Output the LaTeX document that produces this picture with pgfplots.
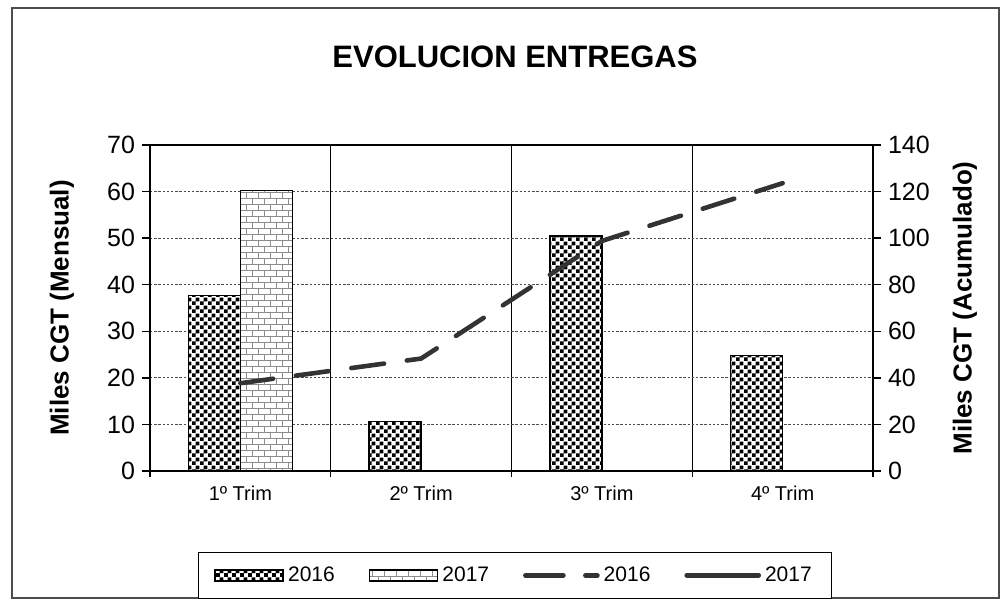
\documentclass[border=0pt]{standalone}
\usepackage{fontspec}
\setmainfont{Liberation Sans}
\usepackage{pgfplots}
\pgfplotsset{compat=1.18}
\usetikzlibrary{patterns}

% fine checkerboard for the 2016 bars
\pgfdeclarepatternformonly{finechecker}{\pgfpointorigin}{\pgfqpoint{4pt}{4pt}}{\pgfqpoint{4pt}{4pt}}{
  \pgfpathrectangle{\pgfpointorigin}{\pgfqpoint{2.1pt}{2.1pt}}
  \pgfpathrectangle{\pgfqpoint{2pt}{2pt}}{\pgfqpoint{2.1pt}{2.1pt}}
  \pgfusepath{fill}}

% small bricks for the 2017 bars
\pgfdeclarepatternformonly{smallbricks}{\pgfqpoint{-0.5pt}{-0.5pt}}{\pgfqpoint{6.5pt}{6.5pt}}{\pgfqpoint{6pt}{6pt}}{
  \pgfsetlinewidth{0.45pt}
  \pgfpathmoveto{\pgfqpoint{0pt}{0pt}}\pgfpathlineto{\pgfqpoint{6pt}{0pt}}
  \pgfpathmoveto{\pgfqpoint{0pt}{3pt}}\pgfpathlineto{\pgfqpoint{6pt}{3pt}}
  \pgfpathmoveto{\pgfqpoint{0pt}{0pt}}\pgfpathlineto{\pgfqpoint{0pt}{3pt}}
  \pgfpathmoveto{\pgfqpoint{3pt}{3pt}}\pgfpathlineto{\pgfqpoint{3pt}{6pt}}
  \pgfusepath{stroke}}

\definecolor{linegray}{HTML}{333333}

\pgfplotsset{
  common/.style={
    width=361.5pt, height=163pt, scale only axis,
    xmin=-0.5, xmax=3.5,
    tick align=outside,
    major tick length=4pt,
    axis line style={line width=0.9pt},
    tick style={line width=0.7pt, black},
    yticklabel style={font=\fontsize{12.5}{13}\selectfont},
    /pgf/number format/assume math mode=true,
  },
}

\begin{document}
\begin{tikzpicture}
\useasboundingbox (-75pt,-64.5pt) rectangle (425pt,235.5pt);
\draw[black!70, line width=0.8pt] (-69pt,-63.5pt) rectangle (424.5pt,231.5pt);

\node[font=\bfseries\fontsize{15.5}{17}\selectfont] at (182.5pt,207pt) {EVOLUCION ENTREGAS};

\begin{axis}[common,
  at={(0,0)}, anchor=south west,
  ymin=0, ymax=70, ytick={0,10,...,70},
  ytick pos=left,
  ybar=0pt, bar width=26pt,
  xtick={0,1,2,3},
  xticklabels={1º Trim,2º Trim,3º Trim,4º Trim},
  xticklabel style={font=\fontsize{10}{11}\selectfont},
  major x tick style={draw=none},
  minor xtick={-0.5,0.5,1.5,2.5,3.5},
  xtick pos=bottom,
  xminorgrids, minor x grid style={black, line width=0.6pt},
  ymajorgrids, major y grid style={black!70, dash pattern=on 1.2pt off 0.9pt, line width=0.5pt},
  ylabel={Miles CGT (Mensual)},
  ylabel style={font=\bfseries\fontsize{13}{14}\selectfont, at={(axis description cs:-0.122,0.5)}, anchor=center},
]
\addplot[draw=black, line width=0.8pt, fill=white,
  postaction={pattern=finechecker, pattern color=black}]
  coordinates {(0,37.7)(1,10.6)(2,50.5)(3,24.8)};
\addplot[draw=black, line width=0.8pt, fill=white,
  postaction={pattern=smallbricks, pattern color=black!45}]
  coordinates {(0,60.2)};
\end{axis}

\begin{axis}[common,
  at={(0,0)}, anchor=south west,
  ymin=0, ymax=140, ytick={0,20,...,140},
  axis y line*=right, axis x line=none,
  ylabel={Miles CGT (Acumulado)},
  ylabel style={font=\bfseries\fontsize{13}{14}\selectfont, at={(axis description cs:1.127,0.5)}, anchor=center, rotate=0},
  legend style={at={(axis description cs:0.505,-0.32)}, anchor=center,
    draw=black, line width=0.6pt, legend columns=4,
    font=\fontsize{10.5}{12}\selectfont,
    /tikz/every even column/.append style={column sep=15pt},
    inner xsep=8pt, inner ysep=5pt},
  legend cell align=left,
]
\addlegendimage{legend image code/.code={
  \draw[draw=black, line width=0.8pt, fill=white, postaction={pattern=finechecker, pattern color=black}]
    (0pt,-2.8pt) rectangle (34pt,2.8pt);}}
\addlegendentry{2016}
\addlegendimage{legend image code/.code={
  \draw[draw=black, line width=0.8pt, fill=white, postaction={pattern=smallbricks, pattern color=black!45}]
    (0pt,-2.8pt) rectangle (34pt,2.8pt);}}
\addlegendentry{2017}
\addplot[linegray, line width=2.3pt, line cap=round, dash pattern=on 16.5pt off 11.5pt,
  legend image code/.code={\draw[linegray, line width=2.3pt, line cap=round, dash pattern=on 19pt off 11pt] (1pt,0pt) -- (37pt,0pt);}]
  coordinates {(0,37.7)(1,48.3)(2,98.8)(3,123.6)};
\addlegendentry{2016}
\addplot[linegray, line width=2.3pt, line cap=round,
  legend image code/.code={\draw[linegray, line width=2.3pt, line cap=round] (1pt,0pt) -- (37pt,0pt);}]
  coordinates {(0,60.2)};
\addlegendentry{2017}
\end{axis}
\end{tikzpicture}
\end{document}
